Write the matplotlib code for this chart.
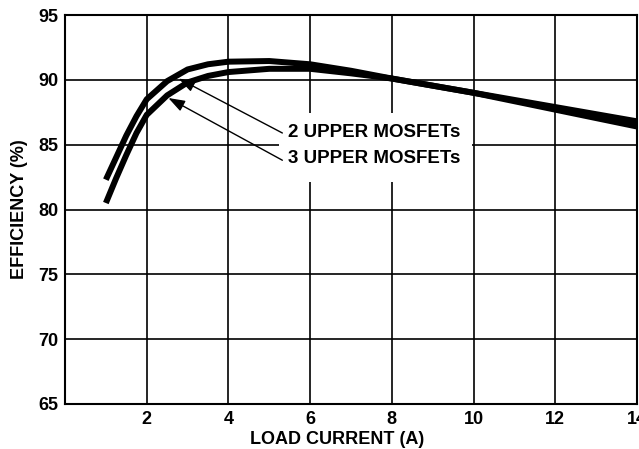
import numpy as np
import matplotlib.pyplot as plt
from matplotlib.patches import Rectangle

plt.rcParams['font.family'] = ['Liberation Sans', 'DejaVu Sans']
plt.rcParams['font.weight'] = 'bold'

# ========== data ==========
load_current = [1.0, 1.25, 1.5, 1.75, 2.0, 2.5, 3.0, 3.5, 4.0, 5.0, 6.0, 7.0, 8.0, 10.0, 12.0, 14.0]
eff_2_upper = [82.3, 84.0, 85.7, 87.2, 88.5, 89.9, 90.8, 91.2, 91.4, 91.45, 91.2, 90.7, 90.1, 89.0, 87.9, 86.8]
eff_3_upper = [80.5, 82.4, 84.2, 85.9, 87.3, 88.8, 89.8, 90.3, 90.6, 90.85, 90.85, 90.5, 90.1, 89.0, 87.7, 86.4]

x_ticks = [2, 4, 6, 8, 10, 12, 14]
y_ticks = [65, 70, 75, 80, 85, 90, 95]

fig = plt.figure(figsize=(6.39, 4.49), dpi=100)
ax = fig.add_axes([65 / 639, 45 / 449, 572 / 639, 389 / 449])

ax.plot(load_current, eff_2_upper, color='black', lw=4.3, solid_capstyle='butt', zorder=3)
ax.plot(load_current, eff_3_upper, color='black', lw=4.3, solid_capstyle='butt', zorder=3)

ax.set_xlim(0, 14)
ax.set_ylim(65, 95)
ax.set_xticks(x_ticks)
ax.set_yticks(y_ticks)
ax.tick_params(length=0, labelsize=13, pad=5)
for lab in ax.get_xticklabels() + ax.get_yticklabels():
    lab.set_fontweight('bold')
ax.grid(True, color='black', lw=1.2)
ax.set_axisbelow(True)
for s in ax.spines.values():
    s.set_linewidth(1.5)

ax.set_xlabel('LOAD CURRENT (A)', fontsize=13, fontweight='bold', va='center')
ax.xaxis.set_label_coords(0.4755, -0.0925)
ax.set_ylabel('EFFICIENCY (%)', fontsize=13, fontweight='bold', va='center')
ax.yaxis.set_label_coords(-0.079, 0.5)

# white box behind the captions
ax.add_patch(Rectangle((5.24, 82.12), 4.71, 5.32, facecolor='white', edgecolor='none', zorder=2.5))
ax.text(5.46, 85.9, '2 UPPER MOSFETs', fontsize=13.5, fontweight='bold', va='center', ha='left', zorder=4)
ax.text(5.46, 83.9, '3 UPPER MOSFETs', fontsize=13.5, fontweight='bold', va='center', ha='left', zorder=4)

arrow = dict(arrowstyle='-|>,head_length=1.0,head_width=0.35', color='black', lw=1.0,
             shrinkA=0, shrinkB=0)
ax.annotate('', xy=(2.78, 90.1), xytext=(5.32, 85.9), arrowprops=arrow, zorder=5)
ax.annotate('', xy=(2.53, 88.6), xytext=(5.32, 83.8), arrowprops=arrow, zorder=5)

plt.savefig('out.png', dpi=100)
